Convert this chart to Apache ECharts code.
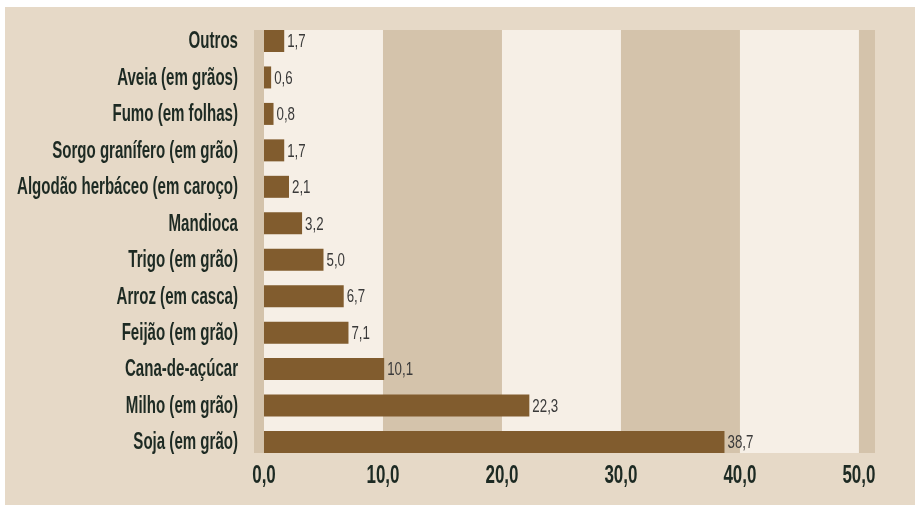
<!DOCTYPE html>
<html>
<head>
<meta charset="utf-8">
<title>Produção agrícola</title>
<script src="https://cdn.jsdelivr.net/npm/echarts@6/dist/echarts.min.js"></script>
<style>
    *{ margin: 0; padding: 0; }
    body{ width: 915px; height: 506px; background: #ffffff; position: relative; overflow: hidden; }
    .panel{ position: absolute; left: 5px; top: 7px; width: 910px; height: 498px; background: #e6d9c7; }
    #chart{ position: absolute; left: 0; top: 0; width: 915px; height: 506px; }
</style>
</head>
<body>
<div class="panel"></div>
<div id="chart"></div>
<script>
    // categorias de cima para baixo
    var categorias = ['Outros', 'Aveia (em grãos)', 'Fumo (em folhas)', 'Sorgo granífero (em grão)',
        'Algodão herbáceo (em caroço)', 'Mandioca', 'Trigo (em grão)', 'Arroz (em casca)',
        'Feijão (em grão)', 'Cana-de-açúcar', 'Milho (em grão)', 'Soja (em grão)'];
    var valores = [1.7, 0.6, 0.8, 1.7, 2.1, 3.2, 5.0, 6.7, 7.1, 10.1, 22.3, 38.7];
    var ticks = [0, 10, 20, 30, 40, 50];
    // faixas do fundo
    var faixaEscura = [[-0.84, 51.35]];
    var faixasClaras = [[0, 10], [20, 30], [40, 50]];

    function fmt(v) { return Number(v).toFixed(1).replace('.', ','); }

    var chart = echarts.init(document.getElementById('chart'));
    var font = "'Liberation Sans', Arial, sans-serif";
    var corTexto = '#1d2a23';
    var barH = 22;
    var ultimo = categorias.length - 1;

    function faixa(cor) {
        return function (params, api) {
            var a = api.coord([api.value(0), 0]);
            var b = api.coord([api.value(1), ultimo]);
            var top = a[1] - barH / 2, bottom = b[1] + barH / 2;
            return { type: 'rect', shape: { x: a[0], y: top, width: b[0] - a[0], height: bottom - top },
                style: { fill: cor } };
        };
    }

    // texto estreito (fonte condensada do original)
    function texto(txt, x, y, opts) {
        return {
            type: 'text', x: x, y: y, scaleX: opts.scaleX,
            style: {
                text: txt, fontFamily: font, fontSize: opts.size, fontWeight: opts.weight,
                fill: opts.color, align: opts.align, verticalAlign: 'middle'
            }
        };
    }

    chart.setOption({
        animation: false,
        grid: { left: 254, right: 40, top: 41, bottom: 64, outerBoundsMode: 'none', containLabel: false },
        xAxis: {
            type: 'value', min: faixaEscura[0][0], max: faixaEscura[0][1],
            axisLine: { show: false }, axisTick: { show: false }, splitLine: { show: false },
            axisLabel: { show: false }
        },
        yAxis: {
            type: 'category', data: categorias, inverse: true, boundaryGap: false,
            axisLine: { show: false }, axisTick: { show: false }, axisLabel: { show: false }
        },
        series: [
            { type: 'custom', silent: true, data: faixaEscura, renderItem: faixa('#d4c3ab'), z: 0 },
            { type: 'custom', silent: true, data: faixasClaras, renderItem: faixa('#f6efe6'), z: 1 },
            {
                type: 'bar', data: valores, z: 2,
                barWidth: barH, clip: false,
                itemStyle: { color: '#815c2e' }
            },
            {
                // nomes das categorias
                type: 'custom', silent: true, z: 3,
                data: categorias.map(function (c, i) { return [0, i]; }),
                renderItem: function (params, api) {
                    var p = api.coord([faixaEscura[0][0], api.value(1)]);
                    return texto(categorias[params.dataIndex], p[0] - 16, p[1] + 1,
                        { size: 23, weight: 'bold', color: corTexto, align: 'right', scaleX: 0.655 });
                }
            },
            {
                // valores das barras
                type: 'custom', silent: true, z: 3,
                data: valores.map(function (v, i) { return [v, i]; }),
                renderItem: function (params, api) {
                    var p = api.coord([api.value(0), api.value(1)]);
                    return texto(fmt(api.value(0)), p[0] + 3, p[1] + 1,
                        { size: 19, weight: 'normal', color: '#3a3a3a', align: 'left', scaleX: 0.7 });
                }
            },
            {
                // rótulos do eixo x
                type: 'custom', silent: true, z: 3,
                data: ticks.map(function (t) { return [t, ultimo]; }),
                renderItem: function (params, api) {
                    var p = api.coord([api.value(0), api.value(1)]);
                    return texto(fmt(api.value(0)), p[0], p[1] + barH / 2 + 23,
                        { size: 25, weight: 'bold', color: corTexto, align: 'center', scaleX: 0.68 });
                }
            }
        ]
    });
</script>
</body>
</html>
